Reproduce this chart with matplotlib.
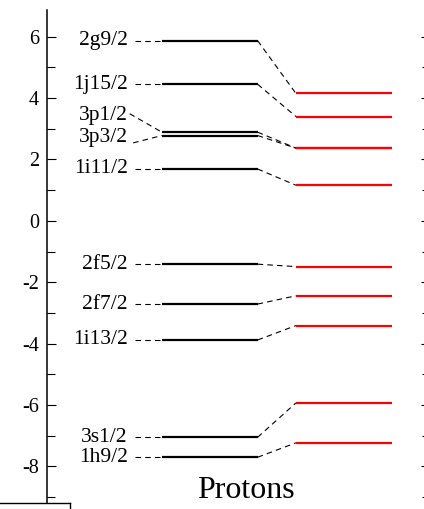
import numpy as np
import matplotlib
matplotlib.use('Agg')
import matplotlib.pyplot as plt
from matplotlib.lines import Line2D
from matplotlib.ticker import MultipleLocator

plt.rcParams['font.family'] = ['Liberation Serif', 'DejaVu Serif']
plt.rcParams['axes.unicode_minus'] = False
plt.rcParams['lines.scale_dashes'] = False

# single-particle proton levels (MeV): left column and shifted column
names = ['2g9/2', '1j15/2', '3p1/2', '3p3/2', '1i11/2',
         '2f5/2', '2f7/2', '1i13/2', '3s1/2', '1h9/2']
e_left = [5.87, 4.45, 2.89, 2.78, 1.69, -1.41, -2.71, -3.88, -7.05, -7.70]
e_right = [4.15, 3.40, 2.37, 2.37, 1.16, -1.49, -2.44, -3.41, -5.93, -7.23]

# label heights / dash starts where the text is moved off its level
label_y = {'3p1/2': 3.44, '3p3/2': 2.70}
dash_start = {'3p1/2': (2.16, 3.49), '3p3/2': (2.25, 2.54)}

yticks = np.arange(-8, 7, 2)

fig = plt.figure(figsize=(4.24, 5.09), dpi=100)
ax = fig.add_axes([0.1108, 0.0118, 0.9033, 0.9686])
ax.set_xlim(0, 10)
ax.set_ylim(-9.19, 6.87)

# column extents in axis units
xl0, xl1 = 3.0, 5.5
xr0, xr1 = 6.5, 9.0
xlab, xdash = 2.11, 2.30

dash = (0, (4, 3))
for n, el, er in zip(names, e_left, e_right):
    ax.plot([xl0, xl1], [el, el], color='k', lw=1.6, solid_capstyle='butt')
    ax.plot([xr0, xr1], [er, er], color='red', lw=1.6, solid_capstyle='butt')
    ax.plot([xl1, xr0], [el, er], color='k', lw=0.8, linestyle=dash)
    ty = label_y.get(n, el)
    dx, dy = dash_start.get(n, (xdash, el))
    ax.plot([dx, xl0], [dy, el], color='k', lw=0.8, linestyle=dash)
    ax.text(xlab, ty, n, ha='right', va='center', fontsize=15.5)

ax.text(5.2, -9.02, 'Protons', ha='center', va='baseline', fontsize=23)

for s in ['top', 'bottom']:
    ax.spines[s].set_visible(False)
for s in ['left', 'right']:
    ax.spines[s].set_linewidth(1.1)

ax.set_xticks([])
ax.set_yticks(yticks)
ax.set_yticklabels([str(v) for v in yticks])
ax.yaxis.set_minor_locator(MultipleLocator(1))
ax.tick_params(axis='y', which='both', direction='in', left=True, right=True,
               width=0.8, pad=5.8, labelsize=14.5)
ax.tick_params(axis='y', which='major', length=6.5)
ax.tick_params(axis='y', which='minor', length=5.5)

# corner of the neighbouring frame below
fig.add_artist(Line2D([0, 70 / 424], [6 / 509, 6 / 509], color='k', lw=1.0,
                      transform=fig.transFigure))
fig.add_artist(Line2D([70 / 424, 70 / 424], [0, 6 / 509], color='k', lw=1.0,
                      transform=fig.transFigure))

fig.savefig('out.png', dpi=100)
